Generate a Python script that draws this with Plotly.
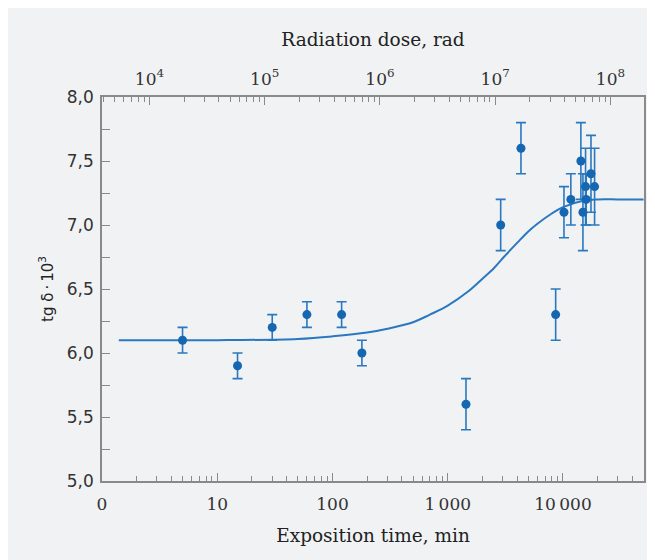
import plotly.graph_objects as go

# Measured points: exposition time (min), tg delta * 10^3, error
time_min = [5, 15, 30, 60, 120, 180, 1440, 2880, 4320, 8640,
            10200, 11700, 14300, 14900, 15700, 15900, 17500, 18800]
tg_delta = [6.1, 5.9, 6.2, 6.3, 6.3, 6.0, 5.6, 7.0, 7.6, 6.3,
            7.1, 7.2, 7.5, 7.1, 7.3, 7.2, 7.4, 7.3]
tg_error = [0.1, 0.1, 0.1, 0.1, 0.1, 0.1, 0.2, 0.2, 0.2, 0.2,
            0.2, 0.2, 0.3, 0.3, 0.3, 0.2, 0.3, 0.3]

# Fitted curve
curve_time = [1.4, 10, 50, 100, 200, 300, 500, 700, 1000, 1500, 2000,
              2500, 3000, 4000, 5000, 6000, 8000, 10000, 15000, 20000, 30000, 50000]
curve_tg = [6.10, 6.10, 6.11, 6.13, 6.16, 6.19, 6.24, 6.30, 6.37, 6.48, 6.58,
            6.66, 6.74, 6.86, 6.95, 7.01, 7.09, 7.14, 7.19, 7.20, 7.20, 7.20]

# Axis ticks
time_tickvals = [1, 10, 100, 1000, 10000]
time_ticktext = ["0", "10", "100", "1\u2009000", "10\u2009000"]
dose_tickvals = [1e4, 1e5, 1e6, 1e7, 1e8]
dose_ticktext = ["10<sup>4</sup>", "10<sup>5</sup>", "10<sup>6</sup>",
                 "10<sup>7</sup>", "10<sup>8</sup>"]
time_minor = [m * 10 ** k for k in range(0, 5) for m in range(2, 10)]
dose_minor = [m * 10 ** k for k in range(3, 9) for m in range(2, 10)]

BLUE = "#1467b0"
LINE_BLUE = "#2a78c0"
AXIS = "#8a8a8a"
BG = "#f1f2f4"
SERIF = "DejaVu Serif"
SANS = "DejaVu Sans"

fig = go.Figure()
fig.add_trace(go.Scatter(
    x=curve_time, y=curve_tg, mode="lines", line=dict(color=LINE_BLUE, width=2, shape="spline"),
    hoverinfo="skip", showlegend=False))
fig.add_trace(go.Scatter(
    x=time_min, y=tg_delta, mode="markers",
    marker=dict(color=BLUE, size=9),
    error_y=dict(type="data", array=tg_error, visible=True, color=LINE_BLUE, thickness=1.6, width=5),
    showlegend=False))
fig.add_trace(go.Scatter(x=[], y=[], xaxis="x2", showlegend=False))

fig.update_layout(
    width=655, height=560,
    margin=dict(l=94, r=19, t=89, b=87),
    paper_bgcolor=BG, plot_bgcolor=BG,
    separators=", ",
    xaxis=dict(
        type="log", range=[0, 4.703], automargin=False,
        tickvals=time_tickvals, ticktext=time_ticktext,
        ticks="inside", ticklen=8, tickwidth=1.2, tickcolor=AXIS,
        minor=dict(tickvals=time_minor, ticks="inside", ticklen=5, tickwidth=1, tickcolor=AXIS),
        showline=True, linecolor=AXIS, linewidth=1.5, mirror=True,
        showgrid=False, zeroline=False, ticklabelstandoff=7,
        tickfont=dict(family=SERIF, size=17, color="#333"),
        title=dict(text="Exposition time, min", font=dict(family=SERIF, size=18.5, color="#222"), standoff=16),
    ),
    xaxis2=dict(
        type="log", range=[3.588, 8.291], overlaying="x", side="top", automargin=False,
        tickvals=dose_tickvals, ticktext=dose_ticktext,
        ticks="inside", ticklen=8, tickwidth=1.2, tickcolor=AXIS,
        minor=dict(tickvals=dose_minor, ticks="inside", ticklen=5, tickwidth=1, tickcolor=AXIS),
        showline=False, showgrid=False, zeroline=False, ticklabelstandoff=8,
        tickfont=dict(family=SERIF, size=17, color="#333"),
        title=dict(text="Radiation dose, rad", font=dict(family=SERIF, size=18.5, color="#222"), standoff=14),
    ),
    yaxis=dict(
        range=[5.0, 8.0], dtick=0.5, tick0=5.0, tickformat=".1f", automargin=False,
        ticks="inside", ticklen=8, tickwidth=1.2, tickcolor=AXIS,
        minor=dict(dtick=0.25, ticks="inside", ticklen=8, tickwidth=1.2, tickcolor=AXIS),
        showline=True, linecolor=AXIS, linewidth=1.5, mirror=True,
        showgrid=False, zeroline=False, ticklabelstandoff=3,
        tickfont=dict(family=SANS, size=17, color="#333"),
        title=dict(text="tg δ\u2009·\u200910<sup>3</sup>", font=dict(family=SANS, size=15, color="#222"), standoff=10),
    ),
)

fig.write_html("out.html")
